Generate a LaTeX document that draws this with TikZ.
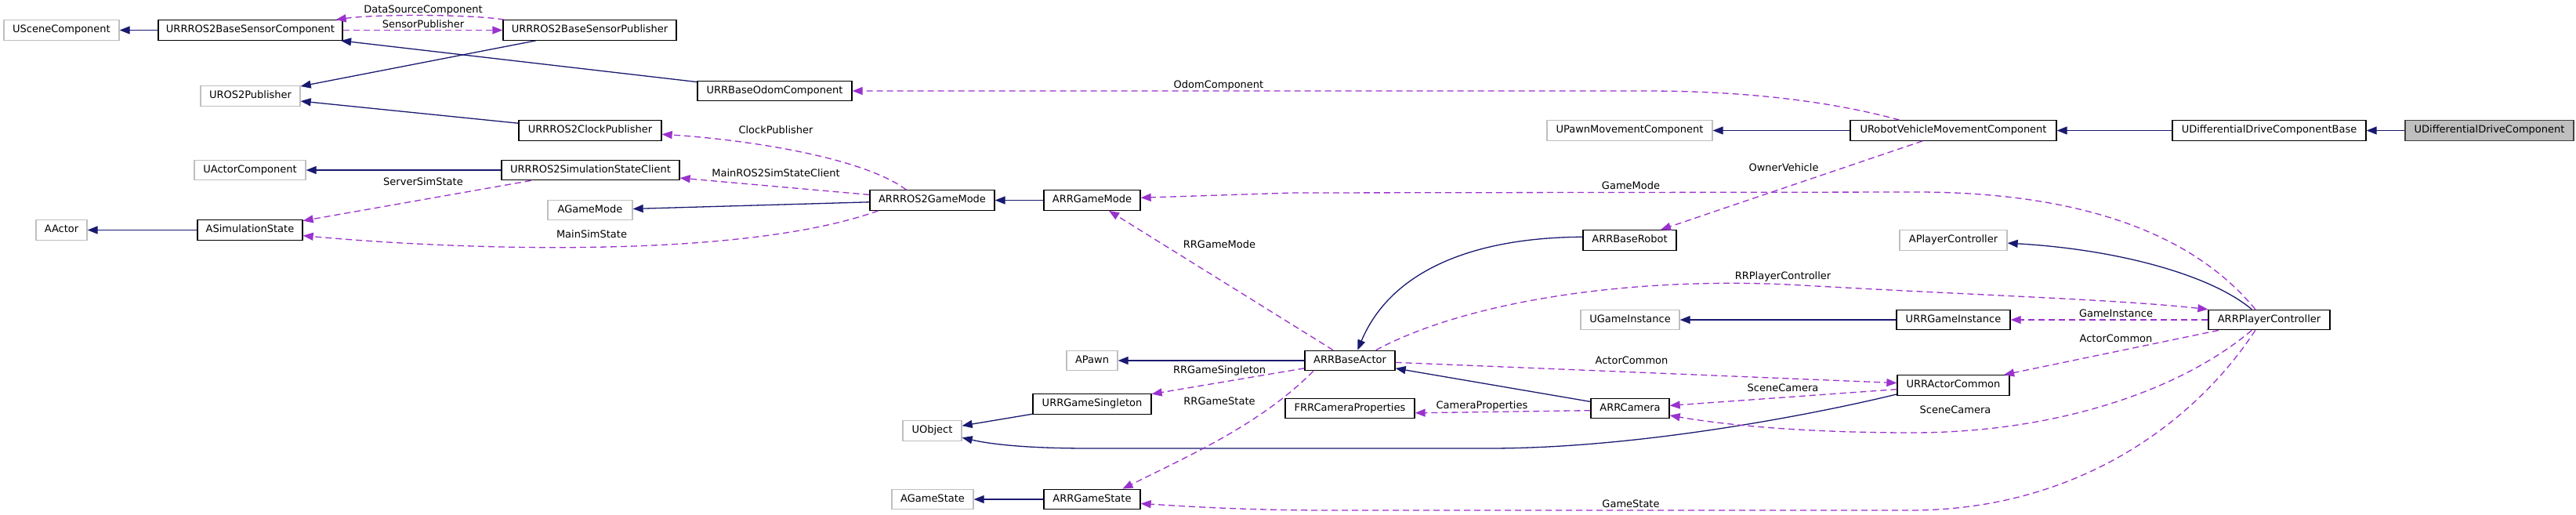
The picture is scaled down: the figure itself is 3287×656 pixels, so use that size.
\documentclass[tikz,border=0pt]{standalone}
\usepackage{fontspec}
\setmainfont{DejaVu Sans}
\usetikzlibrary{arrows.meta}
\definecolor{inhblue}{HTML}{191970}
\definecolor{mempurple}{HTML}{9A32CD}
\definecolor{extgray}{HTML}{BFBFBF}
\newcommand{\dgfont}{\fontsize{13}{15}\selectfont}

\begin{document}
\begin{tikzpicture}[
  x=1pt, y=-1pt,
  cls/.style={draw=black, line width=1.3pt, fill=white, minimum height=25.5pt, inner sep=0pt, text height=9.5pt, text depth=2.7pt, font=\dgfont},
  ext/.style={cls, draw=extgray},
  root/.style={cls, fill=extgray, draw=black!75},
  inh/.style={-{Triangle[length=13pt, width=10pt]}, line width=1.3pt, inhblue},
  mem/.style={-{Triangle[length=13pt, width=10pt]}, line width=1.3pt, mempurple, dash pattern=on 8pt off 5pt},
  lab/.style={font=\dgfont, inner sep=0pt, text height=9.5pt, text depth=0pt}
]
\path[use as bounding box, fill=white] (0,0) rectangle (3287,656);

\node[ext, minimum width=147pt] (scene) at (78.5,38.5) {USceneComponent};
\node[cls, minimum width=235pt] (sensorcomp) at (319.5,38.5) {URRROS2BaseSensorComponent};
\node[cls, minimum width=221pt] (sensorpub) at (752.5,38.5) {URRROS2BaseSensorPublisher};
\node[ext, minimum width=127pt] (rospub) at (319.5,122.5) {UROS2Publisher};
\node[cls, minimum width=182pt] (clockpub) at (753,166.5) {URRROS2ClockPublisher};
\node[ext, minimum width=142pt] (actorcomp) at (319,217) {UActorComponent};
\node[cls, minimum width=227pt] (simclient) at (753.5,217) {URRROS2SimulationStateClient};
\node[ext, minimum width=108pt] (agamemode) at (753,268) {AGameMode};
\node[ext, minimum width=65pt] (aactor) at (78.5,293.5) {AActor};
\node[cls, minimum width=134pt] (simstate) at (319,293.5) {ASimulationState};
\node[cls, minimum width=197pt] (odom) at (988.5,116) {URRBaseOdomComponent};
\node[cls, minimum width=159pt] (rosgamemode) at (1189.5,255.5) {ARRROS2GameMode};
\node[cls, minimum width=123pt] (gamemode) at (1393.5,255.5) {ARRGameMode};
\node[ext, minimum width=65pt] (apawn) at (1393.5,460) {APawn};
\node[cls, minimum width=151pt] (singleton) at (1393.5,515.5) {URRGameSingleton};
\node[ext, minimum width=75pt] (uobject) at (1189.5,549.5) {UObject};
\node[ext, minimum width=104pt] (agamestate) at (1190,637) {AGameState};
\node[cls, minimum width=123pt] (gamestate) at (1393.5,637) {ARRGameState};
\node[ext, minimum width=211pt] (pawnmove) at (2079.5,166.5) {UPawnMovementComponent};
\node[cls, minimum width=263pt] (vehiclemove) at (2492.5,166.5) {URobotVehicleMovementComponent};
\node[cls, minimum width=119pt] (baserobot) at (2079.5,306.5) {ARRBaseRobot};
\node[ext, minimum width=137pt] (aplayerctrl) at (2492.5,306.5) {APlayerController};
\node[cls, minimum width=115pt] (baseactor) at (1722.5,460) {ARRBaseActor};
\node[cls, minimum width=165pt] (camprops) at (1722.5,521) {FRRCameraProperties};
\node[cls, minimum width=100pt] (camera) at (2080,521) {ARRCamera};
\node[ext, minimum width=126pt] (ugameinst) at (2080,408) {UGameInstance};
\node[cls, minimum width=145pt] (gameinst) at (2492.5,408) {URRGameInstance};
\node[cls, minimum width=143pt] (actorcommon) at (2492.5,491.5) {URRActorCommon};
\node[cls, minimum width=247pt] (drivebase) at (2895.5,166.5) {UDifferentialDriveComponentBase};
\node[root, minimum width=215pt] (drive) at (3176.5,166.5) {UDifferentialDriveComponent};
\node[cls, minimum width=155pt] (playerctrl) at (2895.5,408) {ARRPlayerController};

\draw[inh] (sensorcomp) -- (scene);
\draw[inh] (odom) -- (sensorcomp);
\draw[inh] (sensorpub) -- (rospub);
\draw[inh] (clockpub) -- (rospub);
\draw[inh] (simclient) -- (actorcomp);
\draw[inh] (rosgamemode) -- (agamemode);
\draw[inh] (simstate) -- (aactor);
\draw[inh] (gamemode) -- (rosgamemode);
\draw[inh] (vehiclemove) -- (pawnmove);
\draw[inh] (drivebase) -- (vehiclemove);
\draw[inh] (drive) -- (drivebase);
\draw[inh] (baserobot.176) .. controls (1880,303) and (1775,345) .. (baseactor.54);
\draw[inh] (baseactor) -- (apawn);
\draw[inh] (camera) -- (baseactor);
\draw[inh] (singleton) -- (uobject);
\draw[inh] (actorcommon.189) .. controls (2330,525) and (2100,572) .. (1900,572) -- (1390,572) .. controls (1320,572) and (1270,568) .. (uobject.-13);
\draw[inh] (gamestate) -- (agamestate);
\draw[inh] (gameinst) -- (ugameinst);
\draw[inh] (playerctrl.149) .. controls (2820,350) and (2700,318) .. (aplayerctrl.-3);

\draw[mem] (sensorpub.173) .. controls (600,18) and (480,18) .. (sensorcomp.7);
\node[lab] (ldatasource) at (540,12) {DataSourceComponent};
\draw[mem] (sensorcomp) -- (sensorpub);
\node[lab] (lsensorpub) at (540,31) {SensorPublisher};
\draw[mem] (vehiclemove.169) .. controls (2340,130) and (2230,116) .. (2100,116) -- (odom.east);
\node[lab] (lodom) at (1555,108) {OdomComponent};
\draw[mem] (rosgamemode.158) .. controls (1100,200) and (950,178) .. (clockpub.-3);
\node[lab] (lclock) at (990,166) {ClockPublisher};
\draw[mem] (rosgamemode) -- (simclient);
\node[lab] (lmainclient) at (990,221) {MainROS2SimStateClient};
\draw[mem] (simclient) -- (simstate);
\node[lab] (lserver) at (540,232) {ServerSimState};
\draw[mem] (rosgamemode.191) .. controls (950,330) and (600,320) .. (simstate.-6);
\node[lab] (lmainsim) at (755,299) {MainSimState};
\draw[mem] (playerctrl.143) .. controls (2800,300) and (2660,246) .. (2450,245) -- (1650,246) -- (gamemode.3);
\node[lab] (lgamemode) at (2081,237) {GameMode};
\draw[mem] (vehiclemove) -- (baserobot);
\node[lab] (lowner) at (2276,214) {OwnerVehicle};
\draw[mem] (baseactor) -- (gamemode);
\node[lab] (lrrgamemode) at (1556,312) {RRGameMode};
\draw[mem] (baseactor.22) .. controls (1880,380) and (2100,352) .. (2300,364) .. controls (2550,378) and (2700,382) .. (playerctrl.north west);
\node[lab] (lrrplayer) at (2275,352) {RRPlayerController};
\draw[mem] (playerctrl) -- (gameinst);
\node[lab] (lgameinst) at (2700,400) {GameInstance};
\draw[mem] (baseactor) -- (actorcommon);
\node[lab] (lactorcommona) at (2082,460) {ActorCommon};
\draw[mem] (playerctrl) -- (actorcommon);
\node[lab] (lactorcommonb) at (2700,432) {ActorCommon};
\draw[mem] (actorcommon) -- (camera);
\node[lab] (lscenea) at (2275,495) {SceneCamera};
\draw[mem] (playerctrl.211) .. controls (2780,500) and (2620,552) .. (2440,552) .. controls (2300,552) and (2200,542) .. (camera.-10);
\node[lab] (lsceneb) at (2495,523) {SceneCamera};
\draw[mem] (baseactor) -- (singleton);
\node[lab] (lsingleton) at (1556,472) {RRGameSingleton};
\draw[mem] (baseactor.196) .. controls (1610,540) and (1520,580) .. (gamestate.19);
\node[lab] (lrrgamestate) at (1556,512) {RRGameState};
\draw[mem] (camera.183) -- (camprops.-4);
\node[lab] (lcamprops) at (1891,517) {CameraProperties};
\draw[mem] (playerctrl.217) .. controls (2800,540) and (2650,650) .. (2440,651) -- (1700,651) .. controls (1580,651) and (1500,645) .. (gamestate.-5);
\node[lab] (lgamestate) at (2081,643) {GameState};
\end{tikzpicture}
\end{document}
